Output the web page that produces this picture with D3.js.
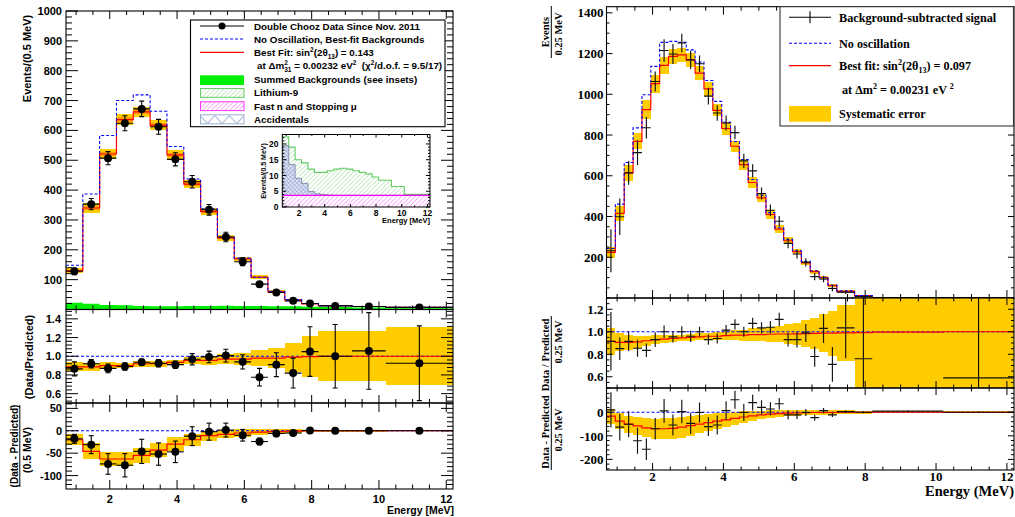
<!DOCTYPE html>
<html><head><meta charset="utf-8">
<script src="https://cdn.jsdelivr.net/npm/d3@7/dist/d3.min.js"></script>
<style>html,body{margin:0;padding:0;background:#fff;} svg{display:block;} text{white-space:pre;}</style>
</head><body>
<svg id="chart" width="1015" height="517"></svg>
<script>
// ================= LEFT CHART DATA (Double Chooz) =================
const edgesL = [0.7,1.2,1.7,2.2,2.7,3.2,3.7,4.2,4.7,5.2,5.7,6.2,6.7,7.2,7.7,8.2,9.2,10.2,12.2];
const dataL    = [128,353,507,624,672,612,503,428,334,243,160,85,57,29,20,12,10,7];
const dataErrL = [11,19,22,25,26,25,22,21,18,16,13,9,8,5.5,4.5,3.5,3,2];
const fitL     = [130,340,521,636,662,618,518,420,328,240,170,108,60,32,19,13,10,7];
const noOscL   = [148,387,583,700,719,664,546,437,337,243,172,108,61,33,20,13,10,7];
const sysL     = [8,17,17,18,18,17,15,13,11,9,7,6,4,3,2,1.5,1.2,1];
// inset background components (events / 0.5 MeV)
const fastnL = [3.7,3.7,3.7,3.7,3.7,3.7,3.7,3.7,3.7,3.7,3.7,3.7,3.7,3.7,3.7,3.7,3.7,3.7];
const accL   = [15.8,9.8,5.4,3.8,1.2,0.5,0.2,0.1,0,0,0,0,0,0,0,0,0,0];
const li9L   = [2.8,5.5,5.9,6.5,7.1,6.8,7.1,7.7,8.3,8.6,8.3,7.8,7.3,6.8,5.8,4.8,2.8,0.3];
// ratio panel
const ratioL    = [0.865,0.92,0.87,0.89,0.936,0.925,0.91,0.968,0.993,1.007,0.94,0.776,0.91,0.82,1.05,1.0,1.057,0.925];
const ratioErrL = [0.075,0.044,0.046,0.04,0.034,0.04,0.04,0.06,0.062,0.068,0.076,0.094,0.128,0.16,0.265,0.34,0.41,0.4];
const ratioFitL = [0.886,0.886,0.90,0.90,0.92,0.92,0.935,0.955,0.955,0.97,0.97,0.98,0.98,0.99,0.995,1.0,1.0,1.0];
const ratioSysL = [0.048,0.045,0.035,0.03,0.03,0.03,0.03,0.035,0.045,0.05,0.06,0.085,0.11,0.155,0.22,0.265,0.27,0.31];
// difference panel
const diffL    = [-18,-31,-74,-77,-46,-52,-47,-12,-2,1.5,-10,-24,-6,-5,0.7,0,0,0];
const diffErrL = [10,20,23,26,27,25,24,21,19,15.5,13,7.5,7,4,3,2,1.5,1];
const diffFitL = [-20,-46,-63,-63,-55,-43,-30,-20,-11,-8,-5,-3,-2,-1,-0.5,0,0,0];
const diffSysL = [12,18,16,16,17,16,15,13,11,9,8,6,5,4,3,2,2,1.5];
// tick labels
const ticksLTop = [100,200,300,400,500,600,700,800,900,1000];
const ticksLRat = [0.6,0.8,1.0,1.2,1.4];
const ticksLDif = [-100,-50,0,50];
const ticksX    = [2,4,6,8,10,12];
const ticksInY  = [0,5,10,15,20];

// ================= RIGHT CHART DATA =================
const edgesR = [0.7,0.95,1.2,1.45,1.7,1.95,2.2,2.45,2.7,2.95,3.2,3.45,3.7,3.95,4.2,4.45,4.7,4.95,5.2,5.45,5.7,5.95,6.2,6.45,6.7,6.95,7.2,7.7,8.2,10.2,12.2];
const dataR    = [232,399,614,714,836,1063,1215,1198,1252,1169,1150,991,908,859,812,673,624,513,431,377,268,216,175,105,93,47,28,7,2,0.5];
const dataErrR = [106,90,58,61,53,49,55,49,45,45,41,41,38,37,33,35,33,30,28,26,24,22,20,18,16,14,8,5,3,1];
const fitR     = [224,415,614,769,925,1052,1142,1186,1194,1169,1104,1027,921,832,745,655,567,492,410,338,281,228,172,129,100,61,33,12,2,0.5];
const noOscR   = [243,461,665,835,998,1137,1255,1260,1255,1218,1158,1068,965,862,768,680,582,505,419,345,288,232,180,134,102,64,35,12,2,0.5];
const sysR     = [28,35,40,40,45,45,40,38,35,35,33,33,30,30,28,25,25,22,20,18,16,14,12,10,9,7,5,3,2,1];
const ratioR    = [0.915,0.85,0.915,0.853,0.835,0.93,1.0,0.955,1.0,0.96,1.0,0.93,0.94,1.015,1.066,1.0,1.075,1.035,1.04,1.11,0.93,0.93,0.99,0.78,1.03,0.71,1.035,0.76,null,0.59];
const ratioErrR = [0.26,0.1,0.087,0.075,0.06,0.065,0.055,0.05,0.05,0.05,0.045,0.045,0.045,0.045,0.045,0.045,0.05,0.05,0.055,0.06,0.06,0.07,0.08,0.09,0.13,0.155,0.27,1.0,null,1.0];
const ratioFitR = [0.915,0.905,0.905,0.91,0.92,0.93,0.935,0.94,0.945,0.95,0.955,0.96,0.96,0.965,0.97,0.97,0.975,0.975,0.978,0.98,0.98,0.982,0.984,0.985,0.987,0.988,0.99,0.993,0.997,1.0];
const ratioSysR = [0.12,0.08,0.065,0.055,0.045,0.04,0.035,0.03,0.03,0.03,0.03,0.03,0.035,0.04,0.045,0.05,0.055,0.06,0.065,0.075,0.085,0.1,0.12,0.14,0.17,0.2,0.25,1,1,1];
const diffR    = [10,-63,-51,-121,-157,-70,6,-54,3,-47,-1,-61,-54,7,53,-1,41,21,14,36,-11,-11,-1,-23,7,-11,3,0,5,0];
const diffErrR = [75,57,55,55,46,46,50,45,50,45,42,40,40,40,38,36,33,30,28,25,20,18,15,13,11,9,6,4,3,2];
const diffFitR = [-16,-38,-50,-58,-66,-70,-70,-68,-63,-57,-50,-44,-38,-32,-26,-20,-15,-11,-8,-6,-4,-3,-2,-1,-1,-1,0,0,0,0];
const diffSysR = [32,34,36,38,40,42,45,45,45,42,40,37,34,30,27,24,21,18,16,14,13,12,11,10,10,10,8,6,5,5];
const ticksRTop = [200,400,600,800,1000,1200,1400];
const ticksRRat = [0.6,0.8,1.0,1.2];
const ticksRDif = [-200,-100,0];

// ================= SETUP =================
const FL = "'Liberation Sans', Arial, Helvetica, sans-serif";
const FR = "'Liberation Serif', 'Times New Roman', serif";
const YEL = '#ffcc00', RED = '#ff0000', BLUE = '#0000ff';

const svg = d3.select('#chart');
svg.append('rect').attr('width',1015).attr('height',517).attr('fill','#fff');
const defs = svg.append('defs');

function clipRect(id, x0, y0, x1, y1){
  defs.append('clipPath').attr('id',id).append('rect')
    .attr('x',x0).attr('y',y0).attr('width',x1-x0).attr('height',y1-y0);
  return `url(#${id})`;
}
function stepPts(edges, vals){
  const p=[];
  vals.forEach((v,i)=>{ p.push({e:edges[i],v}); p.push({e:edges[i+1],v}); });
  return p;
}
function drawStep(g, edges, vals, x, y, color, width, dash, cp){
  g.append('path').attr('clip-path',cp)
    .attr('d', d3.line().x(d=>x(d.e)).y(d=>y(d.v))(stepPts(edges, vals)))
    .attr('fill','none').attr('stroke',color).attr('stroke-width',width)
    .attr('stroke-dasharray', dash||null);
}
function drawHLine(g, x, y, v, color, width, dash, cp){
  const [a,b]=x.domain();
  g.append('path').attr('clip-path',cp)
    .attr('d', d3.line().x(d=>x(d)).y(()=>y(v))([a,b]))
    .attr('stroke',color).attr('stroke-width',width).attr('stroke-dasharray',dash).attr('fill','none');
}
function drawBand(g, edges, center, half, k, x, y, color, cp){
  const d = center.map((c,i)=>({lo:edges[i],hi:edges[i+1],a:c-half[i]*k,b:c+half[i]*k}));
  g.append('g').attr('clip-path',cp).attr('shape-rendering','crispEdges')
    .selectAll('rect').data(d).join('rect')
    .attr('x',d=>x(d.lo)).attr('width',d=>x(d.hi)-x(d.lo))
    .attr('y',d=>y(d.b)).attr('height',d=>y(d.a)-y(d.b)).attr('fill',color);
}
function binData(edges, vals, errs){
  return vals.map((v,i)=>({lo:edges[i],hi:edges[i+1],m:(edges[i]+edges[i+1])/2,v,e:errs[i]})).filter(d=>d.v!=null);
}
function drawDots(g, edges, vals, errs, x, y, cp){
  const d = binData(edges, vals, errs);
  const gg = g.append('g').attr('clip-path',cp).attr('stroke','#000').attr('stroke-width',1.1);
  gg.selectAll('.h').data(d).join('line').attr('x1',d=>x(d.lo)).attr('x2',d=>x(d.hi)).attr('y1',d=>y(d.v)).attr('y2',d=>y(d.v));
  gg.selectAll('.v').data(d).join('line').attr('x1',d=>x(d.m)).attr('x2',d=>x(d.m)).attr('y1',d=>y(d.v-d.e)).attr('y2',d=>y(d.v+d.e));
  gg.selectAll('.c1').data(d).join('line').attr('x1',d=>x(d.m)-2.5).attr('x2',d=>x(d.m)+2.5).attr('y1',d=>y(d.v+d.e)).attr('y2',d=>y(d.v+d.e));
  gg.selectAll('.c2').data(d).join('line').attr('x1',d=>x(d.m)-2.5).attr('x2',d=>x(d.m)+2.5).attr('y1',d=>y(d.v-d.e)).attr('y2',d=>y(d.v-d.e));
  gg.selectAll('circle').data(d).join('circle').attr('cx',d=>x(d.m)).attr('cy',d=>y(d.v)).attr('r',4).attr('fill','#000').attr('stroke','none');
}
function drawCross(g, edges, vals, errs, x, y, cp){
  const d = binData(edges, vals, errs);
  const gg = g.append('g').attr('clip-path',cp).attr('stroke','#111').attr('stroke-width',1.15);
  gg.selectAll('.h').data(d).join('line').attr('x1',d=>x(d.lo)).attr('x2',d=>x(d.hi)).attr('y1',d=>y(d.v)).attr('y2',d=>y(d.v));
  gg.selectAll('.v').data(d).join('line').attr('x1',d=>x(d.m)).attr('x2',d=>x(d.m)).attr('y1',d=>y(d.v-d.e)).attr('y2',d=>y(d.v+d.e));
}
function frame(g, x, y, o){
  const [x0,x1]=x.range(), [yb,yt]=y.range();
  const t = g.append('g').attr('stroke','#000').attr('stroke-width',1);
  const addY=(vals,L)=>{
    t.selectAll(null).data(vals).join('line').attr('x1',x0).attr('x2',x0+L).attr('y1',d=>y(d)).attr('y2',d=>y(d));
    t.selectAll(null).data(vals).join('line').attr('x1',x1).attr('x2',x1-L).attr('y1',d=>y(d)).attr('y2',d=>y(d));
  };
  const addX=(vals,L)=>{
    t.selectAll(null).data(vals).join('line').attr('y1',yb).attr('y2',yb-L).attr('x1',d=>x(d)).attr('x2',d=>x(d));
    t.selectAll(null).data(vals).join('line').attr('y1',yt).attr('y2',yt+L).attr('x1',d=>x(d)).attr('x2',d=>x(d));
  };
  addY(o.yMaj,o.yMajL); addY(o.yMin,o.yMinL); addX(o.xMaj,o.xMajL); addX(o.xMin,o.xMinL);
  g.append('rect').attr('x',x0).attr('y',yt).attr('width',x1-x0).attr('height',yb-yt)
    .attr('fill','none').attr('stroke','#000').attr('stroke-width',o.fw||1.1);
}
function yLabels(g, y, vals, xPos, fmt, font, size){
  g.append('g').selectAll('text').data(vals).join('text')
    .attr('x',xPos).attr('y',d=>y(d)+size*0.36).attr('text-anchor','end')
    .attr('font-family',font).attr('font-weight','bold').attr('font-size',size).attr('fill','#000')
    .text(fmt);
}
function xLabels(g, x, vals, yPos, font, size){
  g.append('g').selectAll('text').data(vals).join('text')
    .attr('x',d=>x(d)).attr('y',yPos).attr('text-anchor','middle')
    .attr('font-family',font).attr('font-weight','bold').attr('font-size',size).attr('fill','#000')
    .text(d=>String(d));
}
function rich(sel, parts, size){
  let off=0;
  parts.forEach(p=>{
    const target = p.sup ? -size*0.4 : (p.sub ? size*0.28 : 0);
    const ts = sel.append('tspan').text(p.t).attr('dy', target-off);
    if(p.dx) ts.attr('dx',p.dx);
    if(p.sup||p.sub) ts.attr('font-size', size*0.66);
    off = target;
  });
}
function rotText(g, txt, x, y, font, size, anchor){
  return g.append('text').attr('transform',`translate(${x},${y}) rotate(-90)`)
    .attr('text-anchor',anchor||'middle').attr('font-family',font).attr('font-weight','bold')
    .attr('font-size',size).attr('fill','#000').text(txt);
}
const rng = (a,b,s,excl)=>d3.range(Math.round(a/s),Math.round(b/s)+1).map(i=>+(i*s).toFixed(4)).filter(v=>!excl(v));

// patterns
function hatch(id, color, size, sw){
  const p = defs.append('pattern').attr('id',id).attr('patternUnits','userSpaceOnUse')
    .attr('width',size).attr('height',size).attr('patternTransform','rotate(45)');
  p.append('line').attr('x1',0).attr('y1',0).attr('x2',0).attr('y2',size).attr('stroke',color).attr('stroke-width',sw);
}
hatch('pLi9','#88d888',3.2,0.9);
hatch('pFast','#ff55ff',3.2,0.9);
(function(){
  const p = defs.append('pattern').attr('id','pAcc').attr('patternUnits','userSpaceOnUse')
    .attr('width',3).attr('height',3).attr('patternTransform','rotate(45)');
  p.append('rect').attr('width',3).attr('height',3).attr('fill','#dfe6f4');
  p.append('line').attr('x1',0).attr('y1',0).attr('x2',0).attr('y2',3).attr('stroke','#7088c0').attr('stroke-width',0.8);
  p.append('line').attr('x1',0).attr('y1',0).attr('x2',3).attr('y2',0).attr('stroke','#7088c0').attr('stroke-width',0.8);
  const z = defs.append('pattern').attr('id','pZig').attr('patternUnits','userSpaceOnUse')
    .attr('x',200).attr('y',115).attr('width',14.7).attr('height',9);
  z.append('polyline').attr('points','0,0.5 7.35,8.5 14.7,0.5').attr('fill','none').attr('stroke','#9aaed0').attr('stroke-width',1);
})();

// ================= LEFT SCALES =================
const xL  = d3.scaleLinear([0.7,12.2],[66,453]);
const yLT = d3.scaleLinear([0,1000],[309.5,11]);
const yLR = d3.scaleLinear([0.5,1.5],[403,309.5]);
const yLD = d3.scaleLinear([-130,62],[489,403]);
const xMinL = rng(1,12,0.5,v=>v%2===0);
const gL = svg.append('g');

// --- top panel
const cLT = clipRect('cLT',66,11,453,309.5);
const bkgTot = fastnL.map((f,i)=>f+accL[i]+li9L[i]);
gL.append('path').attr('clip-path',cLT)
  .attr('d', d3.area().x(d=>xL(d.e)).y0(yLT(0)).y1(d=>yLT(d.v))(stepPts(edgesL,bkgTot)))
  .attr('fill','#00ee00');
drawBand(gL, edgesL, fitL, sysL, 1, xL, yLT, YEL, cLT);
drawBand(gL, edgesL, fitL, sysL, 0.45, xL, yLT, '#ffa200', cLT);
drawStep(gL, edgesL, fitL, xL, yLT, RED, 1.2, null, cLT);
drawStep(gL, edgesL, noOscL, xL, yLT, BLUE, 1.1, '3,2', cLT);
drawDots(gL, edgesL, dataL, dataErrL, xL, yLT, cLT);
frame(gL, xL, yLT, {yMaj:ticksLTop, yMajL:12, yMin:rng(20,980,20,v=>v%100===0), yMinL:6, xMaj:ticksX, xMajL:8, xMin:xMinL, xMinL:4});
yLabels(gL, yLT, ticksLTop, 62, d=>String(d), FL, 11);
rotText(gL, 'Events/(0.5 MeV)', 30.5, 58.5, FL, 11);

// --- ratio panel
const cLR = clipRect('cLR',66,309.5,453,403);
drawBand(gL, edgesL, ratioFitL, ratioSysL, 1, xL, yLR, YEL, cLR);
drawHLine(gL, xL, yLR, 1.0, BLUE, 1.1, '3,2', cLR);
drawStep(gL, edgesL, ratioFitL, xL, yLR, RED, 1.2, null, cLR);
drawDots(gL, edgesL, ratioL, ratioErrL, xL, yLR, cLR);
frame(gL, xL, yLR, {yMaj:ticksLRat, yMajL:12, yMin:rng(0.52,1.48,0.04,v=>ticksLRat.some(t=>Math.abs(t-v)<1e-6)), yMinL:6, xMaj:ticksX, xMajL:8, xMin:xMinL, xMinL:4});
yLabels(gL, yLR, ticksLRat, 61, d3.format('.1f'), FL, 11);
rotText(gL, '(Data/Predicted)', 32.5, 357, FL, 11);

// --- difference panel
const cLD = clipRect('cLD',66,403,453,489);
drawBand(gL, edgesL, diffFitL, diffSysL, 1, xL, yLD, YEL, cLD);
drawHLine(gL, xL, yLD, 0, BLUE, 1.1, '3,2', cLD);
drawStep(gL, edgesL, diffFitL, xL, yLD, RED, 1.2, null, cLD);
drawDots(gL, edgesL, diffL, diffErrL, xL, yLD, cLD);
frame(gL, xL, yLD, {yMaj:ticksLDif, yMajL:12, yMin:rng(-120,60,10,v=>v%50===0), yMinL:6, xMaj:ticksX, xMajL:9, xMin:xMinL, xMinL:4.5});
yLabels(gL, yLD, ticksLDif, 62, d=>String(d), FL, 11);
xLabels(gL, xL, ticksX, 503, FL, 11);
gL.append('text').attr('x',454).attr('y',514).attr('text-anchor','end').attr('font-family',FL)
  .attr('font-weight','bold').attr('font-size',10.5).text('Energy [MeV]');
rotText(gL, '(Data - Predicted)', 18, 446, FL, 10);
gL.append('line').attr('x1',19.8).attr('x2',19.8).attr('y1',405).attr('y2',487).attr('stroke','#000').attr('stroke-width',1);
rotText(gL, '(0.5 MeV)', 31, 450, FL, 10.5);

// --- legend (left)
const lg = gL.append('g');
lg.append('rect').attr('x',190.5).attr('y',20).attr('width',254.5).attr('height',106.7).attr('fill','#fff').attr('stroke','#000').attr('stroke-width',1.1);
const lgRows = [26,39,52.3,65.7,79.3,92.7,106,119];
lg.append('line').attr('x1',200).attr('x2',244).attr('y1',lgRows[0]).attr('y2',lgRows[0]).attr('stroke','#000').attr('stroke-width',1.1);
lg.append('circle').attr('cx',222).attr('cy',lgRows[0]).attr('r',3.5).attr('fill','#000');
lg.append('line').attr('x1',200).attr('x2',244).attr('y1',lgRows[1]).attr('y2',lgRows[1]).attr('stroke',BLUE).attr('stroke-width',1.1).attr('stroke-dasharray','3,2');
lg.append('line').attr('x1',200).attr('x2',244).attr('y1',lgRows[2]).attr('y2',lgRows[2]).attr('stroke',RED).attr('stroke-width',1.2);
lg.append('rect').attr('x',200).attr('y',75.3).attr('width',44).attr('height',9.7).attr('fill','#00ee00');
lg.append('rect').attr('x',200.5).attr('y',88.5).attr('width',43.5).attr('height',8.8).attr('fill','url(#pLi9)').attr('stroke','#66cc66').attr('stroke-width',1);
lg.append('rect').attr('x',200.5).attr('y',101.8).attr('width',43.5).attr('height',8.8).attr('fill','url(#pFast)').attr('stroke','#ff33ff').attr('stroke-width',1);
lg.append('rect').attr('x',200.5).attr('y',114.8).attr('width',43.5).attr('height',9).attr('fill','url(#pZig)').attr('stroke','#9aaed0').attr('stroke-width',1);
const lgT = (yy,xx)=>lg.append('text').attr('x',xx||254).attr('y',yy+3.5).attr('font-family',FL).attr('font-weight','bold').attr('font-size',9.8).attr('fill','#000');
lgT(lgRows[0]).text('Double Chooz Data Since Nov. 2011');
lgT(lgRows[1]).text('No Oscillation, Best-fit Backgrounds');
rich(lgT(lgRows[2]), [{t:'Best Fit: sin'},{t:'2',sup:true},{t:'(2θ'},{t:'13',sub:true},{t:') = 0.143'}], 9.8);
rich(lgT(lgRows[3],257), [{t:'at Δm'},{t:'2',sup:true},{t:'31',sub:true,dx:-3.5},{t:' = 0.00232 eV'},{t:'2',sup:true},{t:'  (χ'},{t:'2',sup:true},{t:'/d.o.f. = 9.5/17)'}], 9.8);
lgT(lgRows[4]).text('Summed Backgrounds (see insets)');
lgT(lgRows[5]).text('Lithium-9');
lgT(lgRows[6]).text('Fast n and Stopping μ');
lgT(lgRows[7]).text('Accidentals');

// --- inset
const xI = d3.scaleLinear([0.7,12.2],[282.3,430]);
const yI = d3.scaleLinear([0,23],[207,134.5]);
const gI = svg.append('g');
gI.append('rect').attr('x',282.3).attr('y',134.5).attr('width',147.7).attr('height',72.5).attr('fill','#fff');
const cI = clipRect('cI',282.3,134.5,430,207);
const lay1 = fastnL, lay2 = fastnL.map((f,i)=>f+accL[i]), lay3 = lay2.map((s,i)=>s+li9L[i]);
const areaI = (lo,hi)=>d3.area().x(d=>xI(d.e)).y0(d=>yI(d.lo)).y1(d=>yI(d.hi))(
  stepPts(edgesL, hi.map((h,i)=>i)).map(p=>({e:p.e, lo:lo?lo[p.v]:0, hi:hi[p.v]})));
gI.append('path').attr('clip-path',cI).attr('d',areaI(lay2,lay3)).attr('fill','url(#pLi9)');
gI.append('path').attr('clip-path',cI).attr('d',areaI(lay1,lay2)).attr('fill','url(#pAcc)');
gI.append('path').attr('clip-path',cI).attr('d',areaI(null,lay1)).attr('fill','url(#pFast)');
drawStep(gI, edgesL, lay3, xI, yI, '#66cc66', 1.1, null, cI);
drawStep(gI, edgesL, lay2, xI, yI, '#8a94b0', 1.0, null, cI);
drawStep(gI, edgesL, lay1, xI, yI, '#ff00ff', 1.1, null, cI);
frame(gI, xI, yI, {yMaj:ticksInY, yMajL:4, yMin:rng(1,22,1,v=>v%5===0), yMinL:2, xMaj:ticksX, xMajL:3, xMin:rng(1,12,1,v=>v%2===0), xMinL:1.5, fw:1});
yLabels(gI, yI, ticksInY, 278.5, d=>String(d), FL, 8.5);
xLabels(gI, xI, ticksX, 215.5, FL, 8.5);
gI.append('text').attr('x',430).attr('y',222.5).attr('text-anchor','end').attr('font-family',FL)
  .attr('font-weight','bold').attr('font-size',7.5).text('Energy [MeV]');
rotText(gI, 'Events/(0.5 MeV)', 266, 171, FL, 7);

// ================= RIGHT SCALES =================
const xR  = d3.scaleLinear([0.7,12.2],[606.5,1014]);
const yRT = d3.scaleLinear([0,1430],[298,6.7]);
const yRR = d3.scaleLinear([0.5,1.3],[388,298]);
const yRD = d3.scaleLinear([-245,103],[470,388]);
const xMinR = rng(1,12,0.5,v=>v%2===0);
const gR = svg.append('g');

// top panel
const cRT = clipRect('cRT',606.5,6.7,1014,298);
drawBand(gR, edgesR, fitR, sysR, 1, xR, yRT, YEL, cRT);
drawStep(gR, edgesR, fitR, xR, yRT, RED, 1.2, null, cRT);
drawStep(gR, edgesR, noOscR, xR, yRT, BLUE, 1.1, '3,2', cRT);
drawCross(gR, edgesR, dataR, dataErrR, xR, yRT, cRT);
frame(gR, xR, yRT, {yMaj:ticksRTop, yMajL:6, yMin:rng(50,1400,50,v=>v%200===0), yMinL:3, xMaj:ticksX, xMajL:8, xMin:xMinR, xMinL:4});
yLabels(gR, yRT, ticksRTop, 603.5, d=>String(d), FR, 13);

// ratio panel
const cRR = clipRect('cRR',606.5,298,1014,388);
drawBand(gR, edgesR, ratioFitR, ratioSysR, 1, xR, yRR, YEL, cRR);
drawHLine(gR, xR, yRR, 1.0, BLUE, 1.1, '3,2', cRR);
drawStep(gR, edgesR, ratioFitR, xR, yRR, RED, 1.2, null, cRR);
drawCross(gR, edgesR, ratioR, ratioErrR, xR, yRR, cRR);
frame(gR, xR, yRR, {yMaj:ticksRRat, yMajL:6, yMin:rng(0.5,1.3,0.05,v=>ticksRRat.some(t=>Math.abs(t-v)<1e-6)), yMinL:3, xMaj:ticksX, xMajL:7, xMin:xMinR, xMinL:3.5});
yLabels(gR, yRR, ticksRRat, 603.5, d3.format('.1f'), FR, 13);

// difference panel
const cRD = clipRect('cRD',606.5,388,1014,470);
drawBand(gR, edgesR, diffFitR, diffSysR, 1, xR, yRD, YEL, cRD);
drawHLine(gR, xR, yRD, 0, BLUE, 1.1, '3,2', cRD);
drawStep(gR, edgesR, diffFitR, xR, yRD, RED, 1.2, null, cRD);
drawCross(gR, edgesR, diffR, diffErrR, xR, yRD, cRD);
frame(gR, xR, yRD, {yMaj:ticksRDif, yMajL:6, yMin:rng(-240,100,20,v=>v%100===0), yMinL:3, xMaj:ticksX, xMajL:7, xMin:xMinR, xMinL:3.5});
yLabels(gR, yRD, ticksRDif, 603.5, d=>String(d), FR, 13);
xLabels(gR, xR, ticksX, 480.5, FR, 13);
gR.append('text').attr('x',1014).attr('y',496).attr('text-anchor','end').attr('font-family',FR)
  .attr('font-weight','bold').attr('font-size',14.5).text('Energy (MeV)');

// right y titles (fractions)
function frac(num, den, yNum, yDen, y0, y1){
  rotText(gR, num, 549, yNum, FR, 10.5);
  gR.append('line').attr('x1',551.3).attr('x2',551.3).attr('y1',y0).attr('y2',y1).attr('stroke','#000').attr('stroke-width',1);
  rotText(gR, den, 562, yDen, FR, 10.5);
}
frac('Events','0.25 MeV',32,34,6,58);
frac('Data / Predicted','0.25 MeV',355,342,316,393);
frac('Data - Predicted','0.25 MeV',432,430,393,470);

// right legend
const rg = gR.append('g');
rg.append('rect').attr('x',780).attr('y',6.7).attr('width',233.5).attr('height',119.3).attr('fill','#fff').attr('stroke','#333').attr('stroke-width',1.1);
const rRows = [17.3,43.3,65.7,90,113.3];
rg.append('line').attr('x1',789).attr('x2',831).attr('y1',rRows[0]).attr('y2',rRows[0]).attr('stroke','#000').attr('stroke-width',1.1);
rg.append('line').attr('x1',810).attr('x2',810).attr('y1',rRows[0]-6).attr('y2',rRows[0]+6).attr('stroke','#000').attr('stroke-width',1.1);
rg.append('line').attr('x1',789).attr('x2',831).attr('y1',rRows[1]).attr('y2',rRows[1]).attr('stroke',BLUE).attr('stroke-width',1.1).attr('stroke-dasharray','3,2');
rg.append('line').attr('x1',789).attr('x2',831).attr('y1',rRows[2]).attr('y2',rRows[2]).attr('stroke',RED).attr('stroke-width',1.2);
rg.append('rect').attr('x',789).attr('y',106).attr('width',42).attr('height',15.7).attr('fill',YEL);
const rgT = (yy,xx)=>rg.append('text').attr('x',xx||839).attr('y',yy+4.2).attr('font-family',FR).attr('font-weight','bold').attr('font-size',12.2).attr('fill','#000');
rgT(rRows[0]).text('Background-subtracted signal');
rgT(rRows[1]).text('No oscillation');
rich(rgT(rRows[2]), [{t:'Best fit: sin'},{t:'2',sup:true},{t:'(2θ'},{t:'13',sub:true},{t:') = 0.097'}], 12.2);
rich(rgT(rRows[3],842), [{t:'at Δm'},{t:'2',sup:true},{t:' = 0.00231 eV '},{t:'2',sup:true}], 12.2);
rgT(rRows[4]).text('Systematic error');
</script>
</body></html>
